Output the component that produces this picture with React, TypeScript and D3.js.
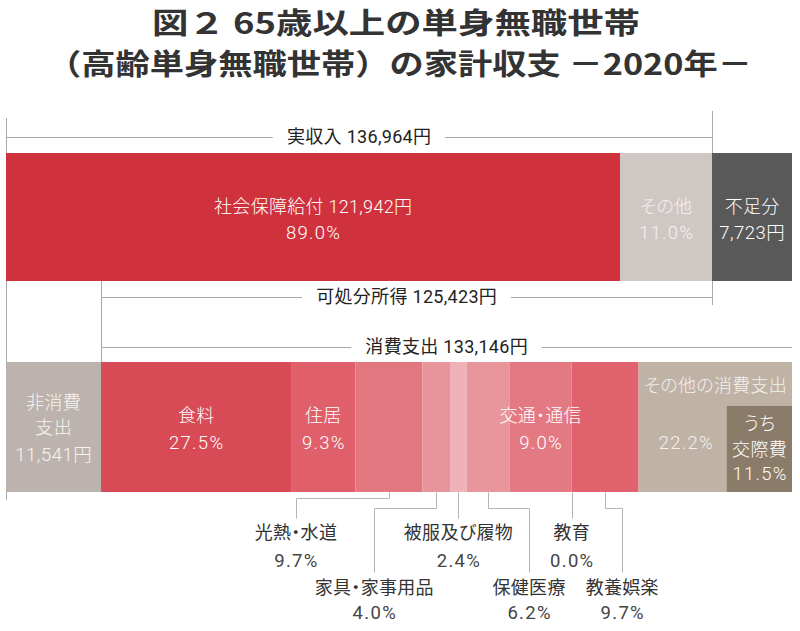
import React, { useEffect, useRef } from "react";
import * as d3 from "d3";

// ---------- data ----------
const titleLines = ["図２ 65歳以上の単身無職世帯", "（高齢単身無職世帯）の家計収支 －2020年－"];

const incomeLabels = ["社会保障給付", "その他"];
const incomeValues = [121942, 15022];
const incomeShares = [89.0, 11.0];
const shortfallLabel = "不足分";
const shortfallValue = 7723;

const actualIncomeLabel = "実収入";
const actualIncome = 136964;
const disposableLabel = "可処分所得";
const disposableIncome = 125423;
const consumptionLabel = "消費支出";
const consumptionTotal = 133146;
const nonConsumptionLines = ["非消費", "支出"];
const nonConsumptionValue = 11541;

const consLabels = [
  "食料", "住居", "光熱・水道", "家具・家事用品", "被服及び履物",
  "保健医療", "交通・通信", "教育", "教養娯楽", "その他の消費支出",
];
const consShares = [27.5, 9.3, 9.7, 4.0, 2.4, 6.2, 9.0, 0.0, 9.7, 22.2];
const socialLines = ["うち", "交際費"];
const socialShare = 11.5;

// ---------- styles / layout ----------
const consColors = [
  "#d84a56", "#df606b", "#e2777f", "#e8949b", "#efb2b7",
  "#e8969c", "#e37a83", "#e37a83", "#df626c", "#bfb3a6",
];
const outsideLayout: Record<number, { row: number; dx: number }> = {
  2: { row: 0, dx: -93 },
  3: { row: 1, dx: -62 },
  4: { row: 0, dx: 0 },
  5: { row: 1, dx: 41 },
  7: { row: 0, dx: 0 },
  8: { row: 1, dx: 17 },
};

const W = 800;
const H = 631;
const L = 6;
const R = 792;
const FONT = "Roboto, 'Noto Sans CJK JP', sans-serif";
const TITLE_FONT = "'Noto Sans CJK JP', sans-serif";

export default function App() {
  const ref = useRef<SVGSVGElement>(null);

  useEffect(() => {
    const svg = d3.select(ref.current);
    svg.selectAll("*").remove();
    const yen = d3.format(",");
    const pct = d3.format(".1f");

    // title
    const titleWidths = [488, 705];
    const titleX = [152, 47];
    const titleY = [34, 75];
    titleLines.forEach((t, i) => {
      svg.append("text")
        .attr("x", titleX[i])
        .attr("y", titleY[i])
        .attr("textLength", titleWidths[i])
        .attr("lengthAdjust", "spacingAndGlyphs")
        .attr("font-family", TITLE_FONT)
        .attr("font-weight", 700)
        .attr("font-size", 29)
        .attr("fill", "#333")
        .text(t);
    });

    const total = actualIncome + shortfallValue;
    // top bar scale (illustrative, not strictly proportional)
    const xTop = d3.scaleLinear()
      .domain([0, incomeValues[0], actualIncome, total])
      .range([L, L + (R - L) * 0.7812, L + (R - L) * 0.8982, R]);
    // bottom bar scale
    const xBot = d3.scaleLinear()
      .domain([0, nonConsumptionValue, nonConsumptionValue + consumptionTotal])
      .range([L, L + (R - L) * 0.1209, R]);
    const consX = d3.scaleLinear().domain([0, 100])
      .range([xBot(nonConsumptionValue), xBot(nonConsumptionValue + consumptionTotal)]);

    const topY0 = 153, topY1 = 281;
    const botY0 = 362, botY1 = 492;
    const lineColor = "#a8a8a8";

    const g = svg.append("g");

    const txt = (x: number, y: number, s: string, fill: string, size = 18, weight = 300) => {
      const numeric = /^[0-9]/.test(s);
      const yenStr = numeric && s.endsWith("円");
      const ls = yenStr ? 0.5 : numeric ? 1.3 : 0.3;
      return g.append("text").attr("x", x + ls / 2).attr("y", y).attr("dy", "0.35em")
        .attr("text-anchor", "middle").attr("font-family", FONT)
        .attr("font-size", numeric ? size + 0.5 : size).attr("font-weight", weight).attr("fill", fill)
        .style("font-feature-settings", "'palt'")
        .style("letter-spacing", `${ls}px`)
        .text(s);
    };

    // vertical guide lines (behind bars)
    const vline = (x: number, y0: number, y1: number) =>
      g.append("line").attr("x1", x + 0.5).attr("x2", x + 0.5).attr("y1", y0).attr("y2", y1)
        .attr("stroke", lineColor).attr("stroke-width", 1);
    vline(xTop(0), 118, 500);
    vline(xTop(actualIncome), 111, 305);
    vline(xBot(nonConsumptionValue), topY1, botY0);

    // bracket with label
    const bracket = (x0: number, x1: number, y: number, label: string) => {
      const t = txt((x0 + x1) / 2, y, label, "#222", 18, 400);
      const w = (t.node() as SVGTextElement).getComputedTextLength();
      const c = (x0 + x1) / 2;
      g.append("line").attr("x1", x0).attr("x2", c - w / 2 - 14).attr("y1", y + 0.5).attr("y2", y + 0.5)
        .attr("stroke", lineColor);
      g.append("line").attr("x1", c + w / 2 + 14).attr("x2", x1).attr("y1", y + 0.5).attr("y2", y + 0.5)
        .attr("stroke", lineColor);
    };
    bracket(xTop(0), xTop(actualIncome), 137, `${actualIncomeLabel} ${yen(actualIncome)}円`);
    bracket(xBot(nonConsumptionValue), xTop(actualIncome), 297, `${disposableLabel} ${yen(disposableIncome)}円`);
    bracket(xBot(nonConsumptionValue), xBot(nonConsumptionValue + consumptionTotal), 347,
      `${consumptionLabel} ${yen(consumptionTotal)}円`);

    // ---------- top bar ----------
    const topColors = ["#d0323d", "#cfc7c4"];
    let acc = 0;
    incomeValues.forEach((v, i) => {
      const x0 = xTop(acc), x1 = xTop(acc + v);
      g.append("rect").attr("x", x0).attr("y", topY0).attr("width", x1 - x0)
        .attr("height", topY1 - topY0).attr("fill", topColors[i]);
      const cx = (x0 + x1) / 2;
      if (i === 0) {
        txt(cx, 207, `${incomeLabels[i]} ${yen(v)}円`, "#fff");
      } else {
        txt(cx, 207, incomeLabels[i], "#f4f1f0");
      }
      txt(cx, 233, `${pct(incomeShares[i])}%`, i === 0 ? "#fff" : "#f4f1f0");
      acc += v;
    });
    {
      const x0 = xTop(actualIncome), x1 = xTop(total);
      g.append("rect").attr("x", x0).attr("y", topY0).attr("width", x1 - x0)
        .attr("height", topY1 - topY0).attr("fill", "#595959");
      const cx = (x0 + x1) / 2;
      txt(cx, 207, shortfallLabel, "#fff");
      txt(cx, 233, `${yen(shortfallValue)}円`, "#fff");
    }

    // ---------- bottom bar ----------
    {
      const x0 = xBot(0), x1 = xBot(nonConsumptionValue);
      g.append("rect").attr("x", x0).attr("y", botY0).attr("width", x1 - x0)
        .attr("height", botY1 - botY0).attr("fill", "#bcb3ae");
      const cx = (x0 + x1) / 2;
      txt(cx, 403, nonConsumptionLines[0], "#f7f3f1");
      txt(cx, 428, nonConsumptionLines[1], "#f7f3f1");
      txt(cx, 455, `${yen(nonConsumptionValue)}円`, "#f7f3f1");
    }

    const cum = d3.cumsum(consShares);
    const segs = consShares.map((s, i) => ({
      label: consLabels[i], share: s,
      x0: consX(cum[i] - s), x1: consX(cum[i]), color: consColors[i],
    }));
    segs.forEach((d) => {
      if (d.x1 - d.x0 <= 0) return;
      g.append("rect").attr("x", d.x0).attr("y", botY0).attr("width", d.x1 - d.x0)
        .attr("height", botY1 - botY0).attr("fill", d.color);
    });

    // inside labels
    [0, 1, 6].forEach((i) => {
      const d = segs[i];
      const cx = (d.x0 + d.x1) / 2;
      txt(cx, 416, d.label, "#fff");
      txt(cx, 443, `${pct(d.share)}%`, "#fff");
    });

    // other consumption + social expenses inset
    {
      const d = segs[9];
      const insetW = (consX(socialShare) - consX(0)) * 0.82;
      const ix0 = d.x1 - insetW;
      g.append("rect").attr("x", ix0).attr("y", 406).attr("width", insetW)
        .attr("height", botY1 - 406).attr("fill", "#8b7c69");
      txt((d.x0 + d.x1) / 2, 386, d.label, "#f4f1ee");
      txt((d.x0 + ix0) / 2 + 3, 443, `${pct(d.share)}%`, "#f4f1ee");
      const icx = ix0 + insetW / 2;
      txt(icx, 424, socialLines[0], "#fff");
      txt(icx, 450, socialLines[1], "#fff");
      txt(icx, 474, `${pct(socialShare)}%`, "#fff");
    }

    // outside labels with leaders
    const rowElbow = [498, 508];
    const rowEnd = [518, 572];
    const rowName = [533, 588];
    const rowVal = [561, 613];
    Object.entries(outsideLayout).forEach(([k, lay]) => {
      const i = +k;
      const d = segs[i];
      const cx = (d.x0 + d.x1) / 2;
      const tx = cx + lay.dx;
      const pts: [number, number][] = lay.dx === 0
        ? [[cx, botY1], [cx, rowEnd[lay.row]]]
        : [[cx, botY1], [cx, rowElbow[lay.row]], [tx, rowElbow[lay.row]], [tx, rowEnd[lay.row]]];
      g.append("path")
        .attr("d", d3.line().x((p) => Math.round(p[0]) + 0.5).y((p) => Math.round(p[1]) + 0.5)(pts))
        .attr("fill", "none").attr("stroke", "#b5b5b5").attr("stroke-width", 1);
      txt(tx, rowName[lay.row], d.label, "#333", 18, 400);
      txt(tx, rowVal[lay.row], `${pct(d.share)}%`, "#444", 18, 400);
    });
  }, []);

  return (
    <svg
      ref={ref}
      width={W}
      height={H}
      style={{ position: "absolute", left: 0, top: 0, background: "#fff" }}
    />
  );
}
